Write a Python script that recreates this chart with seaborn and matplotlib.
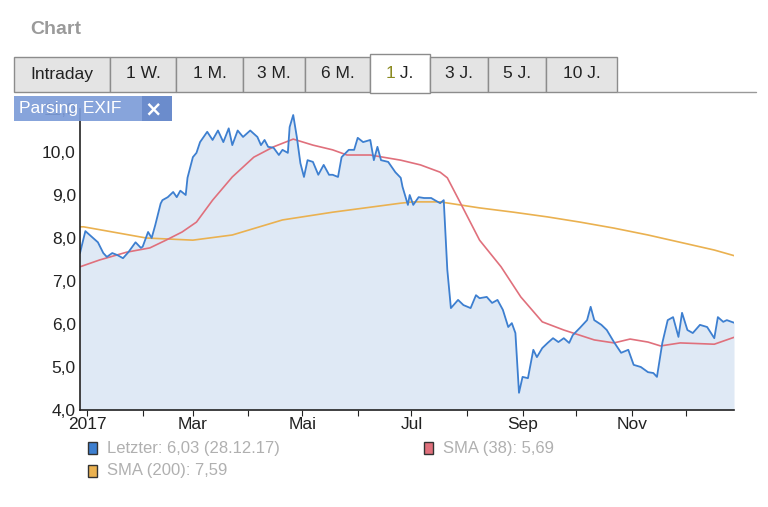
import matplotlib

matplotlib.use("Agg")
import matplotlib.pyplot as plt
import numpy as np
import pandas as pd
import seaborn as sns
from matplotlib.patches import Rectangle

# days since 28.12.2016
letzter_tage = [0, 3, 10, 13, 15, 18, 21, 24, 27, 30, 31, 34, 35, 38, 40, 42, 45, 46, 49, 52,
                54, 56, 59, 60, 63, 65, 67, 71, 74, 77, 80, 83, 85, 88, 91, 95, 99, 101, 103, 105,
                108, 111, 113, 116, 117, 119, 121, 123, 125, 127, 130, 133, 136, 139, 141, 144,
                146, 150, 153, 155, 158, 162, 164, 166, 168, 172, 176, 179, 180, 183, 184, 186,
                189, 192, 196, 198, 201, 203, 205, 207, 211, 214, 218, 221, 223, 227, 230, 233,
                236, 239, 241, 243, 245, 247, 250, 253, 255, 258, 261, 264, 267, 270, 273, 275,
                279, 283, 285, 287, 291, 294, 298, 302, 306, 309, 313, 317, 320, 322, 325, 328,
                331, 334, 336, 339, 342, 346, 350, 354, 356, 359, 361, 365]
letzter_kurs = [7.65, 8.16, 7.9, 7.65, 7.56, 7.65, 7.6, 7.53, 7.67, 7.84, 7.9, 7.77, 7.8, 8.14,
                8.0, 8.3, 8.8, 8.88, 8.95, 9.07, 8.95, 9.1, 9.0, 9.4, 9.88, 9.98, 10.23, 10.47,
                10.28, 10.5, 10.23, 10.55, 10.16, 10.5, 10.35, 10.5, 10.35, 10.16, 10.28, 10.12,
                10.1, 9.93, 10.05, 9.98, 10.58, 10.86, 10.35, 9.74, 9.42, 9.81, 9.77, 9.47, 9.7,
                9.47, 9.47, 9.42, 9.88, 10.05, 10.05, 10.33, 10.23, 10.28, 9.81, 10.12, 9.81,
                9.77, 9.53, 9.4, 9.19, 8.77, 9.0, 8.77, 8.95, 8.93, 8.93, 8.88, 8.81, 8.88, 7.26,
                6.37, 6.56, 6.44, 6.37, 6.67, 6.6, 6.63, 6.49, 6.56, 6.33, 5.93, 6.02, 5.79, 4.4,
                4.77, 4.74, 5.4, 5.23, 5.44, 5.56, 5.67, 5.58, 5.67, 5.56, 5.74, 5.91, 6.09, 6.4,
                6.09, 5.98, 5.86, 5.58, 5.33, 5.4, 5.05, 5.0, 4.88, 4.86, 4.77, 5.56, 6.09, 6.16,
                5.7, 6.26, 5.86, 5.79, 5.98, 5.93, 5.67, 6.16, 6.05, 6.09, 6.03]

sma38_tage = [0, 11, 26, 39, 48, 57, 65, 74, 85, 97, 108, 119, 130, 141, 149, 162, 179, 190,
              201, 205, 212, 223, 235, 246, 258, 270, 287, 298, 307, 317, 324, 335, 354, 365]
sma38_kurs = [7.33, 7.49, 7.67, 7.77, 7.95, 8.14, 8.37, 8.88, 9.42, 9.88, 10.12, 10.3, 10.16,
              10.05, 9.93, 9.93, 9.81, 9.7, 9.53, 9.4, 8.84, 7.95, 7.33, 6.63, 6.05, 5.86, 5.63,
              5.56, 5.65, 5.58, 5.49, 5.56, 5.53, 5.69]

sma200_tage = [0, 2, 37, 63, 85, 113, 141, 179, 186, 201, 223, 242, 261, 279, 298, 317, 335,
               354, 365]
sma200_kurs = [8.26, 8.26, 8.0, 7.95, 8.07, 8.42, 8.6, 8.81, 8.84, 8.84, 8.7, 8.6, 8.49, 8.37,
               8.23, 8.07, 7.9, 7.72, 7.59]

tabs = ["Intraday", "1 W.", "1 M.", "3 M.", "6 M.", "1 J.", "3 J.", "5 J.", "10 J."]
monats_labels = ["2017", "Mar", "Mai", "Jul", "Sep", "Nov"]
legende = ["Letzter: 6,03 (28.12.17)", "SMA (38): 5,69", "SMA (200): 7,59"]

start = pd.Timestamp("2016-12-28")
df_kurs = pd.DataFrame({"datum": start + pd.to_timedelta(letzter_tage, unit="D"), "kurs": letzter_kurs})
df_38 = pd.DataFrame({"datum": start + pd.to_timedelta(sma38_tage, unit="D"), "kurs": sma38_kurs})
df_200 = pd.DataFrame({"datum": start + pd.to_timedelta(sma200_tage, unit="D"), "kurs": sma200_kurs})

sns.set_style("white")
plt.rcParams["font.family"] = ["Liberation Sans", "DejaVu Sans"]

W, H = 768, 507
fig = plt.figure(figsize=(W / 100, H / 100), dpi=100)


def fx(px):
    return px / W


def fy(py):
    return 1 - py / H


ax = fig.add_axes([fx(80), fy(410), fx(734) - fx(80), fy(109) - fy(410)])

blau, rot, orange = "#3d7fd0", "#e0707c", "#eab150"
ax.fill_between(df_kurs["datum"], df_kurs["kurs"], 4, color="#dfe9f5", lw=0)
sns.lineplot(data=df_200, x="datum", y="kurs", ax=ax, color=orange, lw=1.2)
sns.lineplot(data=df_38, x="datum", y="kurs", ax=ax, color=rot, lw=1.2)
sns.lineplot(data=df_kurs, x="datum", y="kurs", ax=ax, color=blau, lw=1.3)

ax.set_xlim(start, start + pd.Timedelta(days=365))
ax.set_ylim(4, 11)
y_werte = np.arange(4, 11.5, 1)
ax.set_yticks(y_werte)
ax.set_yticklabels([f"{v:.1f}".replace(".", ",") for v in y_werte])
ax.set_xlabel("")
ax.set_ylabel("")

major = pd.date_range("2017-01-01", periods=6, freq="2MS")
minor = pd.date_range("2017-02-01", periods=6, freq="2MS")
ax.set_xticks(major)
ax.set_xticklabels(monats_labels)
ax.set_xticks(minor, minor=True)
ax.tick_params(axis="x", which="both", length=4, width=0.8, direction="out", pad=1,
               labelsize=12.5, colors="#222222", bottom=True)
ax.tick_params(axis="y", length=0, pad=3, labelsize=12.5, labelcolor="#222222")
for s in ["top", "right"]:
    ax.spines[s].set_visible(False)
for s in ["left", "bottom"]:
    ax.spines[s].set_color("#222222")
    ax.spines[s].set_linewidth(1.2)

# header
fig.text(fx(30), fy(30), "Chart", fontsize=14, fontweight="bold", color="#9a9a9a",
         ha="left", va="center")

kanten = [14, 110, 176, 243, 305, 370, 430, 488, 546, 617]
fig.add_artist(plt.Line2D([fx(617), fx(756)], [fy(92), fy(92)], color="#999999", lw=1))
for i, name in enumerate(tabs):
    x0, x1 = kanten[i], kanten[i + 1]
    aktiv = name == "1 J."
    top, bot = (54, 93) if aktiv else (57, 92)
    fig.add_artist(Rectangle((fx(x0), fy(bot)), fx(x1 - x0), fy(top) - fy(bot),
                             transform=fig.transFigure, facecolor="white" if aktiv else "#e4e4e4",
                             edgecolor="#8c8c8c", lw=1))
    if aktiv:
        fig.text(fx((x0 + x1) / 2) - 0.006, fy(74), "1", fontsize=12.5, color="#8a8a20",
                 ha="right", va="center")
        fig.text(fx((x0 + x1) / 2) - 0.006, fy(74), " J.", fontsize=12.5, color="#222222",
                 ha="left", va="center")
    else:
        fig.text(fx((x0 + x1) / 2), fy(74), name, fontsize=12.5, color="#222222",
                 ha="center", va="center")

# badge
fig.add_artist(Rectangle((fx(14), fy(121)), fx(158), fy(96) - fy(121), transform=fig.transFigure,
                         facecolor="#7d9cd8", edgecolor="none", alpha=0.92))
fig.add_artist(Rectangle((fx(142), fy(121)), fx(30), fy(96) - fy(121), transform=fig.transFigure,
                         facecolor="#6b8ccc", edgecolor="none"))
fig.text(fx(19), fy(108), "Parsing EXIF", fontsize=12.5, color="white", ha="left", va="center")
fig.text(fx(153), fy(109), "×", fontsize=15, color="white", fontweight="bold",
         ha="center", va="center", family=["DejaVu Sans"])

# legend
eintraege = [(88, 448, blau), (424, 448, rot), (88, 471, orange)]
for (px, py, farbe), text in zip(eintraege, legende):
    fig.add_artist(Rectangle((fx(px), fy(py + 6)), fx(9), fy(py - 6) - fy(py + 6),
                             transform=fig.transFigure, facecolor=farbe, edgecolor="#333333", lw=1))
    fig.text(fx(px + 19), fy(py), text, fontsize=12, color="#b0b0b0", ha="left", va="center")

fig.savefig("out.png", dpi=100)
